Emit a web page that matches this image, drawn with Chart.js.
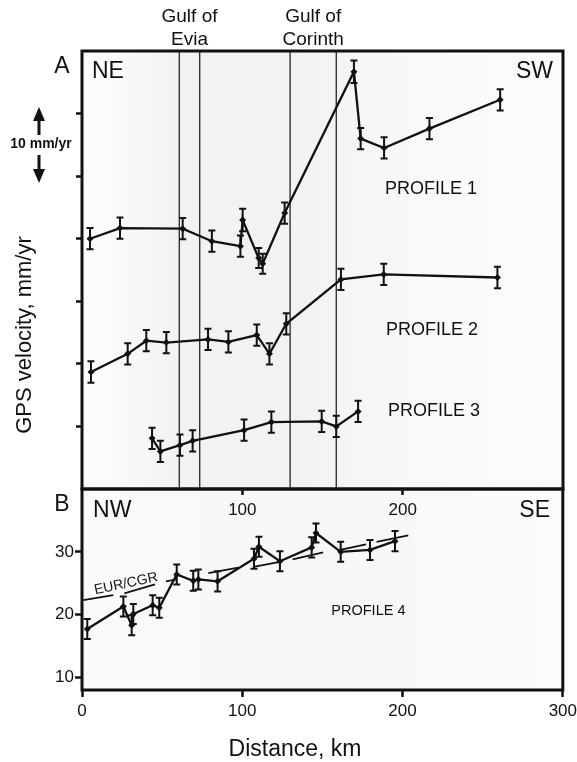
<!DOCTYPE html>
<html>
<head>
<meta charset="utf-8">
<script src="https://cdn.jsdelivr.net/npm/chart.js@4.4.1/dist/chart.umd.min.js"></script>
<style>
  html, body { margin: 0; padding: 0; background: #fff; }
  #wrap { position: relative; width: 577px; height: 762px; background: #fff; overflow: hidden; }
  #wrap canvas { position: absolute; left: 0; }
  #chartA { top: 0; }
  #chartB { top: 440px; }
</style>
</head>
<body>
<div id="wrap">
  <canvas id="chartB" width="577" height="322"></canvas>
  <canvas id="chartA" width="577" height="540"></canvas>
</div>
<script>
// --- Data (distance in km, velocity in mm/yr) ---
// Panel A: profiles are offset; one y tick = 10 units
const p1Dist = [5, 23.7, 62.8, 81, 98.8, 100.2, 110.2, 112.7, 126.4, 169.6, 173.8, 188.4, 216.7, 260.8];
const p1Vel  = [40.0, 41.7, 41.6, 39.6, 38.8, 43.0, 36.9, 36.0, 44.1, 66.7, 56.0, 54.5, 57.6, 62.2];
const p1Err  = [1.7, 1.7, 1.7, 1.7, 1.7, 1.8, 1.6, 1.6, 1.7, 1.8, 1.7, 1.7, 1.7, 1.7];

const p2Dist = [5.6, 28.5, 40.1, 52.6, 78.6, 91.3, 109.0, 116.9, 127.4, 161.5, 188.2, 259.1];
const p2Vel  = [18.7, 21.6, 23.7, 23.4, 23.9, 23.5, 24.6, 21.6, 26.4, 33.5, 34.3, 33.8];
const p2Err  = [1.7, 1.7, 1.7, 1.7, 1.7, 1.7, 1.7, 1.7, 1.7, 1.7, 1.7, 1.7];

const p3Dist = [43.7, 48.9, 61.1, 69.0, 101.1, 118.1, 149.5, 158.6, 172.2];
const p3Vel  = [8.1, 6.0, 7.0, 7.7, 9.4, 10.7, 10.8, 10.0, 12.4];
const p3Err  = [1.7, 1.7, 1.7, 1.7, 1.7, 1.7, 1.7, 1.7, 1.7];

// Panel B: profile 4 (mm/yr)
const p4Dist = [3.3, 25.8, 31.0, 32.0, 44.1, 48.2, 59.1, 69.4, 72.6, 84.6, 107.3, 110.4, 123.5, 143.3, 146.0, 161.4, 179.7, 195.3];
const p4Vel  = [17.7, 21.3, 18.3, 20.1, 21.5, 21.1, 26.4, 25.4, 25.6, 25.3, 28.9, 30.8, 28.5, 30.7, 33.0, 30.0, 30.3, 31.7];
const p4Err  = [1.6, 1.6, 1.6, 1.6, 1.6, 1.6, 1.6, 1.6, 1.6, 1.6, 1.6, 1.6, 1.6, 1.6, 1.5, 1.6, 1.6, 1.6];

// EUR/CGR model line, drawn in pieces (null = gap)
const eurDist = [0.8, 19.5, 23, 26.4, 45.5, 49, 52.4, 59.1, 70, 78.8, 97.5, 102, 106.9, 123.5, 127, 131.4, 150.5, 155, 161, 177.2, 180, 183.8, 203.6];
const eurVel  = [22.3, 23.1, null, 23.4, 24.8, null, 25.3, 25.6, null, 26.6, 27.5, null, 27.6, 28.4, null, 28.8, 29.9, null, 30.3, 31.2, null, 31.6, 32.6];

// Gulf boundaries (km)
const gulfEdges = [60.7, 73.4, 129.8, 158.6];

const xTicksTop = [100, 200];
const xTicksBottom = [0, 100, 200, 300];
const yTicksA = [10, 20, 30, 40, 50, 60];
const yTicksB = [10, 20, 30];

const FONT = "'Liberation Sans', Arial, Helvetica, sans-serif";
const INK = '#111';

function pts(xs, ys) {
    return xs.map((x, i) => ({ x: x, y: ys[i] }));
}

function profile(xs, ys, errs) {
    return {
        data: pts(xs, ys),
        errors: errs,
        showLine: true,
        borderColor: INK,
        borderWidth: 2.3,
        pointStyle: 'rectRot',
        pointRadius: 3.5,
        pointBackgroundColor: INK,
        pointBorderWidth: 0,
        tension: 0
    };
}

// --- Plugin: shading, gulf lines, error bars, frame, labels ---
const decor = {
    id: 'decor',
    beforeDatasetsDraw(chart, args, opts) {
        const { ctx, chartArea: a, scales: { x } } = chart;
        ctx.save();
        const g = ctx.createLinearGradient(a.left, 0, a.right, 0);
        opts.shade.forEach(s => g.addColorStop(s[0], 'rgba(0,0,0,' + s[1] + ')'));
        ctx.fillStyle = g;
        ctx.fillRect(a.left, a.top, a.width, a.height);

        ctx.strokeStyle = '#333';
        ctx.lineWidth = 1.4;
        (opts.edges || []).forEach(v => {
            const px = x.getPixelForValue(v);
            ctx.beginPath();
            ctx.moveTo(px, a.top);
            ctx.lineTo(px, a.bottom);
            ctx.stroke();
        });
        ctx.restore();
    },
    afterDatasetsDraw(chart) {
        const { ctx, scales: { y } } = chart;
        ctx.save();
        ctx.strokeStyle = INK;
        ctx.lineWidth = 2;
        chart.data.datasets.forEach((ds, i) => {
            if (!ds.errors) return;
            const meta = chart.getDatasetMeta(i);
            meta.data.forEach((pt, j) => {
                const v = ds.data[j].y, e = ds.errors[j];
                const y1 = y.getPixelForValue(v + e), y2 = y.getPixelForValue(v - e);
                ctx.beginPath();
                ctx.moveTo(pt.x, y1); ctx.lineTo(pt.x, y2);
                ctx.moveTo(pt.x - 3.5, y1); ctx.lineTo(pt.x + 3.5, y1);
                ctx.moveTo(pt.x - 3.5, y2); ctx.lineTo(pt.x + 3.5, y2);
                ctx.stroke();
            });
        });
        ctx.restore();
    },
    afterDraw(chart, args, opts) {
        const { ctx, chartArea: a, scales: { x, y } } = chart;
        ctx.save();
        ctx.strokeStyle = INK;
        ctx.lineWidth = 3;
        ctx.strokeRect(a.left, a.top, a.width, a.height);

        ctx.fillStyle = INK;
        (opts.labels || []).forEach(l => {
            const px = l.data ? x.getPixelForValue(l.x) : a.left + l.x;
            const py = l.yData ? y.getPixelForValue(l.y) : (l.fromBottom ? a.bottom + l.y : a.top + l.y);
            ctx.save();
            ctx.translate(px, py);
            if (l.rot) ctx.rotate(l.rot * Math.PI / 180);
            ctx.font = (l.weight || 'normal') + ' ' + l.size + 'px ' + FONT;
            ctx.textAlign = l.align || 'center';
            ctx.textBaseline = 'middle';
            ctx.fillText(l.text, 0, 0);
            ctx.restore();
        });

        if (opts.arrow) {
            // 10 mm/yr scale arrows
            const ax = a.left + opts.arrow.x;
            const top = a.top + opts.arrow.top, bot = a.top + opts.arrow.bottom;
            ctx.lineWidth = 3;
            ctx.beginPath();
            ctx.moveTo(ax, top + 12); ctx.lineTo(ax, top + 28);
            ctx.moveTo(ax, bot - 12); ctx.lineTo(ax, bot - 28);
            ctx.stroke();
            ctx.beginPath();
            ctx.moveTo(ax, top); ctx.lineTo(ax - 6, top + 14); ctx.lineTo(ax + 6, top + 14); ctx.closePath();
            ctx.moveTo(ax, bot); ctx.lineTo(ax - 6, bot - 14); ctx.lineTo(ax + 6, bot - 14); ctx.closePath();
            ctx.fill();
        }
        ctx.restore();
    }
};

const tickFont = { family: FONT, size: 17 };
const gridOpts = { drawOnChartArea: false, drawTicks: true, tickLength: 6, tickWidth: 2.5, tickColor: INK };

// --- Panel A ---
new Chart(document.getElementById('chartA'), {
    type: 'scatter',
    data: {
        datasets: [
            profile(p1Dist, p1Vel, p1Err),
            profile(p2Dist, p2Vel, p2Err),
            profile(p3Dist, p3Vel, p3Err)
        ]
    },
    options: {
        responsive: false,
        animation: false,
        events: [],
        layout: { padding: { left: 0, top: 51, right: 14, bottom: 0 } },
        plugins: {
            legend: { display: false },
            tooltip: { enabled: false },
            decor: {
                edges: gulfEdges,
                shade: [[0, 0.01], [0.08, 0.02], [0.2, 0.05], [0.45, 0.05], [0.55, 0.04], [0.7, 0.025], [1, 0.01]],
                arrow: { x: -43, top: 56, bottom: 132 },
                labels: [
                    { text: 'Gulf of', data: true, x: (gulfEdges[0] + gulfEdges[1]) / 2, y: -34, size: 19 },
                    { text: 'Evia', data: true, x: (gulfEdges[0] + gulfEdges[1]) / 2, y: -11, size: 19 },
                    { text: 'Gulf of', data: true, x: (gulfEdges[2] + gulfEdges[3]) / 2, y: -34, size: 19 },
                    { text: 'Corinth', data: true, x: (gulfEdges[2] + gulfEdges[3]) / 2, y: -11, size: 19 },
                    { text: 'A', x: -20, y: 16, size: 23 },
                    { text: 'NE', data: true, yData: true, x: 6.2, y: 66.7, size: 23, align: 'left' },
                    { text: 'SW', data: true, yData: true, x: 293.8, y: 66.7, size: 23, align: 'right' },
                    { text: 'PROFILE 1', data: true, yData: true, x: 217.7, y: 48.0, size: 18 },
                    { text: 'PROFILE 2', data: true, yData: true, x: 218.3, y: 25.4, size: 18 },
                    { text: 'PROFILE 3', data: true, yData: true, x: 219.6, y: 12.4, size: 18 },
                    { text: '10 mm/yr', x: -41, y: 93, size: 14, weight: 'bold' },
                    { text: 'GPS velocity, mm/yr', x: -57, y: 284, size: 22, rot: -90 }
                ]
            }
        },
        scales: {
            x: {
                type: 'linear', min: 0, max: 300,
                afterBuildTicks: s => { s.ticks = xTicksTop.map(v => ({ value: v })); },
                afterFit: s => { s.height = 51; },
                grid: gridOpts,
                border: { display: false },
                ticks: { color: INK, font: tickFont, padding: 5, maxRotation: 0 }
            },
            y: {
                min: 0, max: 70,
                afterBuildTicks: s => { s.ticks = yTicksA.map(v => ({ value: v })); },
                afterFit: s => { s.width = 82; },
                grid: gridOpts,
                border: { display: false },
                ticks: { display: false }
            }
        }
    },
    plugins: [decor]
});

// --- Panel B ---
const eurLine = {
    data: pts(eurDist, eurVel),
    showLine: true,
    spanGaps: false,
    borderColor: INK,
    borderWidth: 1.8,
    pointRadius: 0,
    tension: 0
};

new Chart(document.getElementById('chartB'), {
    type: 'scatter',
    data: {
        datasets: [eurLine, profile(p4Dist, p4Vel, p4Err)]
    },
    options: {
        responsive: false,
        animation: false,
        events: [],
        layout: { padding: { left: 0, top: 49, right: 14, bottom: 0 } },
        plugins: {
            legend: { display: false },
            tooltip: { enabled: false },
            decor: {
                edges: [],
                shade: [[0, 0.02], [0.5, 0.03], [1, 0.015]],
                labels: [
                    { text: 'B', x: -20, y: 16, size: 23 },
                    { text: 'NW', data: true, yData: true, x: 6.9, y: 36.5, size: 23, align: 'left' },
                    { text: 'SE', data: true, yData: true, x: 292, y: 36.5, size: 23, align: 'right' },
                    { text: 'PROFILE 4', data: true, yData: true, x: 178.7, y: 20.5, size: 14.5 },
                    { text: 'EUR/CGR', data: true, yData: true, x: 27.4, y: 24.9, size: 14, rot: -12 },
                    { text: 'Distance, km', data: true, x: 132.9, y: 60, fromBottom: true, size: 23 }
                ]
            }
        },
        scales: {
            x: {
                type: 'linear', min: 0, max: 300,
                afterBuildTicks: s => { s.ticks = xTicksBottom.map(v => ({ value: v })); },
                afterFit: s => { s.height = 72; },
                grid: Object.assign({}, gridOpts, { tickLength: 7 }),
                border: { display: false },
                ticks: { color: INK, font: { family: FONT, size: 17, lineHeight: 1.67 }, padding: 0, maxRotation: 0 }
            },
            y: {
                min: 8, max: 40,
                afterBuildTicks: s => { s.ticks = yTicksB.map(v => ({ value: v })); },
                afterFit: s => { s.width = 82; },
                grid: Object.assign({}, gridOpts, { tickLength: 7 }),
                border: { display: false },
                ticks: { color: INK, font: tickFont, padding: 1 }
            }
        }
    },
    plugins: [decor]
});
</script>
</body>
</html>
